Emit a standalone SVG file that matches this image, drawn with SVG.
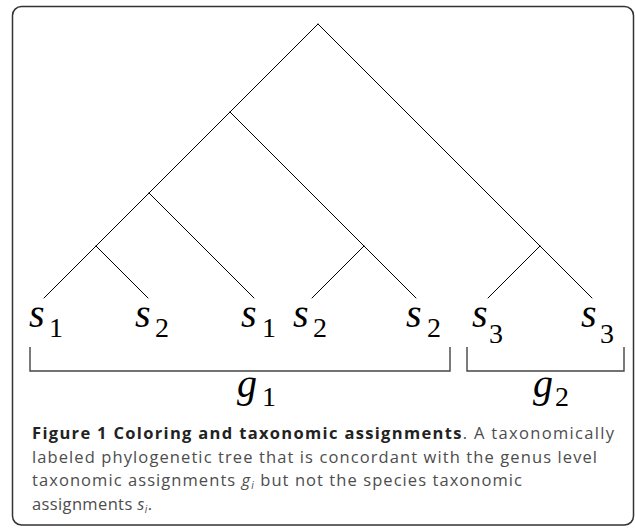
<svg xmlns="http://www.w3.org/2000/svg" width="635" height="531" viewBox="0 0 635 531">
<style>
.frame{fill:#fff;stroke:#333;stroke-width:1.5}
.edge{stroke:#000;stroke-width:1;fill:none;stroke-linecap:round}
.bracket{stroke:#444;stroke-width:1.4;fill:none}
.v{font-family:'Liberation Serif','DejaVu Serif','Noto Serif',serif;font-style:italic;font-size:40px;fill:#000}
.d{font-family:'Liberation Serif','DejaVu Serif','Noto Serif',serif;font-style:normal;font-size:28px;fill:#000}
.cap{font-family:'Open Sans','Noto Sans',sans-serif;font-size:16.5px;fill:#4d4d4d}
.capb{font-weight:bold;fill:#222}
.ci{font-style:italic}
.cs{font-style:italic;font-size:10px}
</style>
<rect class="frame" x="12.5" y="6.5" width="621" height="518.5" rx="9"/>
<g id="connectors">
<line class="edge" x1="318" y1="24" x2="44" y2="298"/>
<line class="edge" x1="318" y1="24" x2="592" y2="298"/>
<line class="edge" x1="230" y1="112" x2="416" y2="298"/>
<line class="edge" x1="149" y1="193" x2="254" y2="298"/>
<line class="edge" x1="96" y1="246" x2="148" y2="298"/>
<line class="edge" x1="364" y1="246" x2="312" y2="298"/>
<line class="edge" x1="540" y1="246" x2="488" y2="298"/>
</g>
<g id="leaf1" font-family="Liberation Serif, serif"><text class="v" x="29" y="327">s</text><text class="d" x="49" y="337">1</text></g>
<g id="leaf2"><text class="v" x="135" y="327">s</text><text class="d" x="155" y="337">2</text></g>
<g id="leaf3"><text class="v" x="241" y="327">s</text><text class="d" x="262" y="337">1</text></g>
<g id="leaf4"><text class="v" x="293" y="327">s</text><text class="d" x="313" y="337">2</text></g>
<g id="leaf5"><text class="v" x="406" y="327">s</text><text class="d" x="427" y="337">2</text></g>
<g id="leaf6"><text class="v" x="472" y="327">s</text><text class="d" x="489" y="343">3</text></g>
<g id="leaf7"><text class="v" x="581" y="327">s</text><text class="d" x="600" y="343">3</text></g>
<g id="genus1">
<path class="bracket" d="M30,347 V371 H450 V347"/>
<text class="v" x="237" y="397">g</text><text class="d" x="262" y="406">1</text>
</g>
<g id="genus2">
<path class="bracket" d="M467,347 V371 H624 V347"/>
<text class="v" x="533" y="397">g</text><text class="d" x="555" y="406">2</text>
</g>
<g id="caption">
<text class="cap" x="32" y="439" textLength="582" lengthAdjust="spacing"><tspan class="capb">Figure 1 Coloring and taxonomic assignments</tspan>. A taxonomically</text>
<text class="cap" x="32" y="462.5" textLength="565" lengthAdjust="spacing">labeled phylogenetic tree that is concordant with the genus level</text>
<text class="cap" x="32" y="486" textLength="490" lengthAdjust="spacing">taxonomic assignments <tspan class="ci">g</tspan><tspan class="cs" dy="3">i</tspan><tspan dy="-3"> but not the species taxonomic</tspan></text>
<text class="cap" x="32" y="509.5" textLength="120" lengthAdjust="spacing">assignments <tspan class="ci">s</tspan><tspan class="cs" dy="3">i</tspan><tspan dy="-3">.</tspan></text>
</g>
</svg>
